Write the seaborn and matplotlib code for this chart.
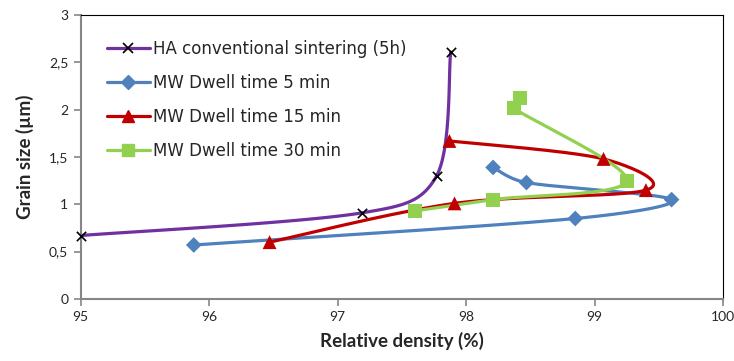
import numpy as np
import pandas as pd
import seaborn as sns
import matplotlib.pyplot as plt
from matplotlib.ticker import FuncFormatter, MultipleLocator
from matplotlib.lines import Line2D

# Data (relative density %, grain size um)
ha_density = [95.0, 97.19, 97.77, 97.88]
ha_grain = [0.67, 0.91, 1.30, 2.61]

mw5_density = [95.88, 98.85, 99.60, 98.47, 98.21]
mw5_grain = [0.57, 0.85, 1.05, 1.23, 1.39]

mw15_density = [96.47, 97.91, 99.40, 99.07, 97.87]
mw15_grain = [0.60, 1.01, 1.15, 1.48, 1.67]

mw30_density = [97.60, 98.21, 99.25, 98.37, 98.42]
mw30_grain = [0.93, 1.05, 1.25, 2.02, 2.12]

labels = [
    "HA conventional sintering (5h)",
    "MW Dwell time 5 min",
    "MW Dwell time 15 min",
    "MW Dwell time 30 min",
]
colors = ["#7030A0", "#4F81BD", "#C00000", "#92D050"]
markers = ["x", "D", "^", "s"]
msizes = [7, 8, 10, 10]


def excel_smooth(x, y, sx=128.4, sy=94.7, n=40):
    """Bezier smoothing like Excel's 'smoothed line', done in screen space."""
    pts = np.column_stack([(np.asarray(x) - 95) * sx, np.asarray(y) * sy])
    out = [pts[0]]
    t = np.linspace(0, 1, n)[1:, None]
    for i in range(len(pts) - 1):
        p0 = pts[i - 1] if i > 0 else pts[i]
        p1, p2 = pts[i], pts[i + 1]
        p3 = pts[i + 2] if i + 2 < len(pts) else pts[i + 1]
        seglen = np.linalg.norm(p2 - p1)
        d1 = (p2 - p0) / 6
        d2 = (p3 - p1) / 6
        # keep the handles from overshooting on very short segments
        for d in (d1, d2):
            nd = np.linalg.norm(d)
            if nd > 0.5 * seglen:
                d *= 0.5 * seglen / nd
        c1 = p1 + d1
        c2 = p2 - d2
        seg = ((1 - t) ** 3) * p1 + 3 * ((1 - t) ** 2) * t * c1 \
            + 3 * (1 - t) * t ** 2 * c2 + t ** 3 * p2
        out.extend(seg)
    out = np.array(out)
    return out[:, 0] / sx + 95, out[:, 1] / sy


sns.set_style("white")
plt.rcParams["font.family"] = ["Lato", "DejaVu Sans"]

fig = plt.figure(figsize=(7.34, 3.61), dpi=100)
ax = fig.add_axes([0.110, 0.172, 0.875, 0.786])

series = [
    (ha_density, ha_grain),
    (mw5_density, mw5_grain),
    (mw15_density, mw15_grain),
    (mw30_density, mw30_grain),
]

# draw in reverse so the purple line sits on top as in the reference
order = [1, 2, 3, 0]
for i in order:
    xd, yd = series[i]
    xs, ys = excel_smooth(xd, yd)
    sns.lineplot(x=xs, y=ys, sort=False, color=colors[i], lw=2.3,
                 estimator=None, ax=ax)
    if markers[i] == "x":
        sns.scatterplot(x=xd, y=yd, marker="x", color="black", s=45,
                        linewidth=1.2, ax=ax, zorder=5, clip_on=False)
    else:
        sns.scatterplot(x=xd, y=yd, marker=markers[i], color=colors[i],
                        s=msizes[i] ** 2, edgecolor="none", ax=ax, zorder=5)

ax.set_xlim(95, 100)
ax.set_ylim(0, 3)
ax.xaxis.set_major_locator(MultipleLocator(1))
ax.yaxis.set_major_locator(MultipleLocator(0.5))
ax.yaxis.set_major_formatter(FuncFormatter(lambda v, p: f"{v:g}".replace(".", ",")))
ax.xaxis.set_major_formatter(FuncFormatter(lambda v, p: f"{v:g}"))
ax.tick_params(axis="both", direction="out", length=5, width=1.2,
               color="#868686", labelsize=10, pad=4, bottom=True, left=True)

for side in ["left", "bottom"]:
    ax.spines[side].set_color("#868686")
    ax.spines[side].set_linewidth(1.5)
for side in ["top", "right"]:
    ax.spines[side].set_color("black")
    ax.spines[side].set_linewidth(0.8)

ax.set_xlabel("Relative density (%)", fontsize=13.5, fontweight="bold", labelpad=6)
ax.set_ylabel("Grain size (µm)", fontsize=13.5, fontweight="bold", labelpad=11)

handles = []
for i in range(4):
    if markers[i] == "x":
        h = Line2D([], [], color=colors[i], lw=2.3, marker="x",
                   markeredgecolor="black", markersize=7, markeredgewidth=1.2)
    else:
        h = Line2D([], [], color=colors[i], lw=2.3, marker=markers[i],
                   markerfacecolor=colors[i], markeredgecolor=colors[i],
                   markersize=msizes[i] * 0.85)
    handles.append(h)
ax.legend(handles, labels, loc="upper left", bbox_to_anchor=(0.03, 0.935),
          frameon=False, handlelength=2.6, handletextpad=0.2,
          labelspacing=0.95, borderaxespad=0,
          prop={"family": "DejaVu Sans", "size": 12})

fig.savefig("out.png", dpi=100)
